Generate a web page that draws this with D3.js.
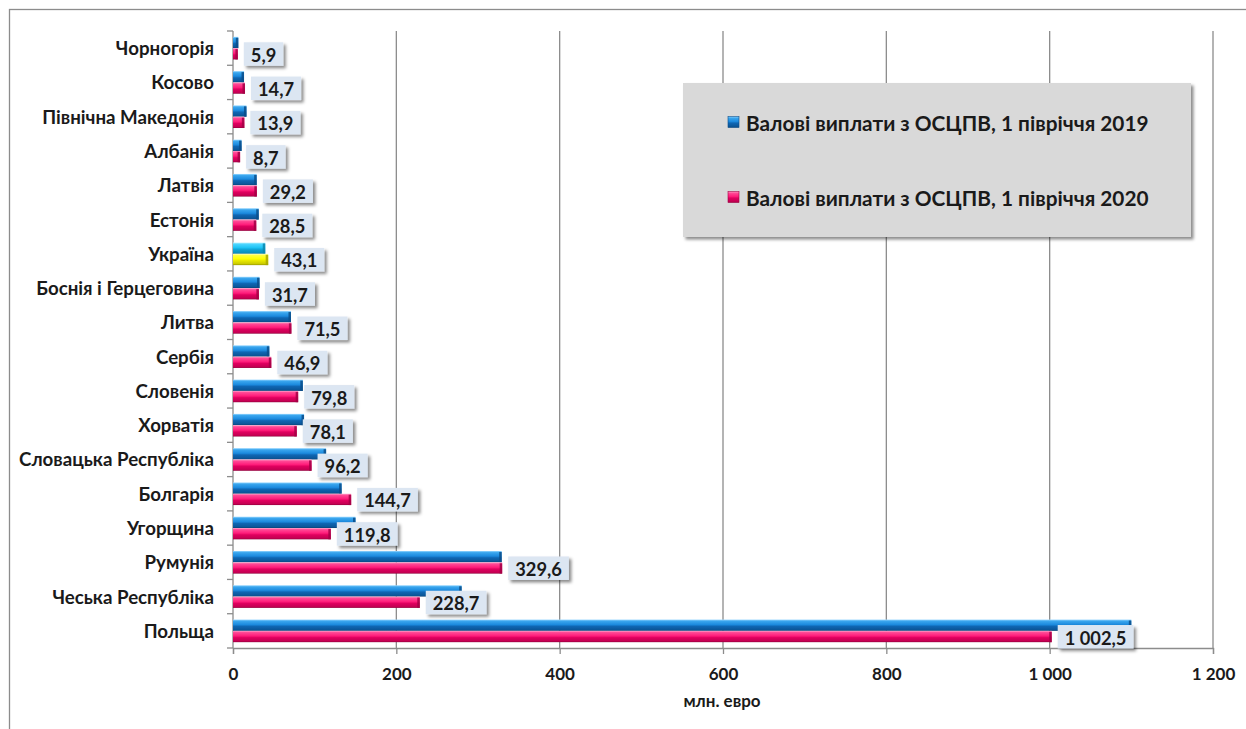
<!DOCTYPE html>
<html>
<head>
<meta charset="utf-8">
<script src="https://cdn.jsdelivr.net/npm/d3@7/dist/d3.min.js"></script>
<style>
  html, body { margin: 0; padding: 0; background: #fff; }
  svg { display: block; font-family: Lato, "Open Sans", sans-serif; }
</style>
</head>
<body>
<svg id="chart" width="1246" height="729"></svg>
<script>
// Gross payments from compulsory civil liability motor insurance (ОСЦПВ), mln EUR
const categories = ["Чорногорія", "Косово", "Північна Македонія", "Албанія", "Латвія", "Естонія",
  "Україна", "Боснія і Герцеговина", "Литва", "Сербія", "Словенія", "Хорватія",
  "Словацька Республіка", "Болгарія", "Угорщина", "Румунія", "Чеська Республіка", "Польща"];
const values2019 = [6.5, 13.5, 16.5, 10.5, 29, 31.5, 39.5, 32.5, 71, 44.5, 85.5, 87,
  114, 133, 150, 329, 280, 1100];
const values2020 = [5.9, 14.7, 13.9, 8.7, 29.2, 28.5, 43.1, 31.7, 71.5, 46.9, 79.8, 78.1,
  96.2, 144.7, 119.8, 329.6, 228.7, 1002.5];
const seriesNames = ["Валові виплати з ОСЦПВ, 1 півріччя 2019", "Валові виплати з ОСЦПВ, 1 півріччя 2020"];
const xTicks = [0, 200, 400, 600, 800, 1000, 1200];
const xTitle = "млн. евро";
const highlighted = "Україна";

const locale = d3.formatLocale({ decimal: ",", thousands: " ", grouping: [3], currency: ["", ""] });
const fmtValue = locale.format(",.1f");
const fmtTick = locale.format(",d");

const svg = d3.select("#chart");
const defs = svg.append("defs");

// bevelled bar gradients
function barGradient(id, stops) {
  const g = defs.append("linearGradient").attr("id", id)
    .attr("x1", 0).attr("y1", 0).attr("x2", 0).attr("y2", 1);
  stops.forEach(([o, c]) => g.append("stop").attr("offset", o).attr("stop-color", c));
}
barGradient("gBlue", [[0, "#9ad8ff"], [0.14, "#3aa6ee"], [0.45, "#1c8ade"], [0.6, "#0f66b3"], [0.9, "#0b5698"], [1, "#083f72"]]);
barGradient("gPink", [[0, "#ffa6cc"], [0.14, "#ff4a96"], [0.45, "#ff1c7a"], [0.6, "#e0005f"], [0.9, "#c40052"], [1, "#8e003b"]]);
barGradient("gCyan", [[0, "#c0f3ff"], [0.14, "#4dd6ff"], [0.45, "#1fc4f5"], [0.6, "#10a6d8"], [0.9, "#0c8fbd"], [1, "#086f92"]]);
barGradient("gYellow", [[0, "#ffffc8"], [0.14, "#ffff40"], [0.45, "#ffff00"], [0.6, "#e8e800"], [0.9, "#c9c900"], [1, "#8f8f00"]]);

const shadow = defs.append("filter").attr("id", "shadow")
  .attr("x", "-20%").attr("y", "-30%").attr("width", "150%").attr("height", "180%");
shadow.append("feDropShadow").attr("dx", 2.5).attr("dy", 2.5).attr("stdDeviation", 1.6)
  .attr("flood-color", "#000").attr("flood-opacity", 0.45);

// outer frame
svg.append("rect").attr("x", 9.5).attr("y", 9.5).attr("width", 1260).attr("height", 740)
  .attr("fill", "none").attr("stroke", "#8c8c8c").attr("stroke-width", 1.3);

const x = d3.scaleLinear().domain([0, 1200]).range([233, 1213]);
const y = d3.scaleBand().domain(categories).range([31, 648]).paddingInner(0.34).paddingOuter(0.17);
const sub = d3.scaleBand().domain([0, 1]).range([0, y.bandwidth()]);

// vertical gridlines
svg.append("g").selectAll("line").data(xTicks.filter(d => d > 0)).join("line")
  .attr("x1", d => x(d)).attr("x2", d => x(d)).attr("y1", 31).attr("y2", 648)
  .attr("stroke", "#8c8c8c").attr("stroke-width", 1.3);

// x axis
const xAxis = svg.append("g").attr("transform", "translate(0,648)")
  .call(d3.axisBottom(x).tickValues(xTicks).tickFormat(fmtTick).tickSize(6).tickPadding(14));
xAxis.select(".domain").attr("stroke", "#8c8c8c").attr("stroke-width", 1.3);
xAxis.selectAll(".tick line").attr("stroke", "#8c8c8c").attr("stroke-width", 1.3);
xAxis.selectAll(".tick text").attr("font-family", "Lato, sans-serif").attr("font-size", 17)
  .attr("font-weight", 700).attr("fill", "#1a1a1a");

// y axis with ticks at band boundaries
const yAxisG = svg.append("g");
yAxisG.append("line").attr("x1", 233).attr("x2", 233).attr("y1", 31).attr("y2", 648)
  .attr("stroke", "#8c8c8c").attr("stroke-width", 1.3);
const step = y.step();
const boundaries = d3.range(categories.length + 1).map(i => 31 + i * step);
yAxisG.selectAll("line.tk").data(boundaries).join("line").attr("class", "tk")
  .attr("x1", 227).attr("x2", 233).attr("y1", d => d).attr("y2", d => d)
  .attr("stroke", "#8c8c8c").attr("stroke-width", 1.3);
yAxisG.selectAll("text").data(categories).join("text")
  .attr("x", 214).attr("y", d => y(d) + y.bandwidth() / 2)
  .attr("text-anchor", "end").attr("dominant-baseline", "central")
  .attr("font-size", 18.7).attr("font-weight", 700).attr("fill", "#1a1a1a")
  .text(d => d);

// bars
const rows = categories.map((c, i) => ({ c, v: [values2019[i], values2020[i]] }));
const barsG = svg.append("g");
rows.forEach(r => {
  r.v.forEach((v, s) => {
    const top = y(r.c) + sub(s);
    const h = sub.bandwidth();
    const isHi = r.c === highlighted;
    const fill = s === 0 ? (isHi ? "url(#gCyan)" : "url(#gBlue)") : (isHi ? "url(#gYellow)" : "url(#gPink)");
    const capColor = s === 0 ? (isHi ? "#0a86ad" : "#0a4d8a") : (isHi ? "#a8a800" : "#a30045");
    const w = x(v) - x(0);
    barsG.append("rect").attr("x", x(0)).attr("y", top).attr("width", w).attr("height", h).attr("fill", fill);
    // darker end face of the bevel
    barsG.append("rect").attr("x", x(v) - Math.min(2.5, w / 2)).attr("y", top + 1)
      .attr("width", Math.min(2.5, w / 2)).attr("height", h - 1).attr("fill", capColor).attr("opacity", 0.85);
  });
});

// value labels for the 2020 series
const labelsG = svg.append("g");
rows.forEach(r => {
  const v = r.v[1];
  const cy = y(r.c) + sub(1) + sub.bandwidth() / 2;
  const g = labelsG.append("g");
  const t = g.append("text").attr("x", x(v) + 13).attr("y", cy + 1)
    .attr("dominant-baseline", "central").attr("font-size", 18.3).attr("font-weight", 700)
    .attr("fill", "#1a1a1a").text(fmtValue(v));
  const tw = t.node().getComputedTextLength();
  g.insert("rect", "text").attr("x", x(v) + 6).attr("y", cy - 11.5)
    .attr("width", tw + 14).attr("height", 23.5).attr("fill", "#dce6f2").attr("filter", "url(#shadow)");
});

// x axis title
svg.append("text").attr("x", 722).attr("y", 707).attr("text-anchor", "middle")
  .attr("font-size", 17).attr("font-weight", 700).attr("fill", "#1a1a1a").text(xTitle);

// legend
const lg = svg.append("g");
lg.append("rect").attr("x", 683).attr("y", 83).attr("width", 508).attr("height", 154)
  .attr("fill", "#d9d9d9").attr("filter", "url(#shadow)");
const legendFills = ["url(#gBlue)", "url(#gPink)"];
const legendY = [122, 197];
seriesNames.forEach((name, i) => {
  lg.append("rect").attr("x", 728).attr("y", legendY[i] - 5.5).attr("width", 11).attr("height", 11)
    .attr("fill", legendFills[i]).attr("stroke", i === 0 ? "#0a4d8a" : "#a30045").attr("stroke-width", 0.6);
  lg.append("text").attr("x", 746).attr("y", legendY[i]).attr("dominant-baseline", "central")
    .attr("font-size", 20.8).attr("font-weight", 700).attr("fill", "#1a1a1a").text(name);
});
</script>
</body>
</html>
